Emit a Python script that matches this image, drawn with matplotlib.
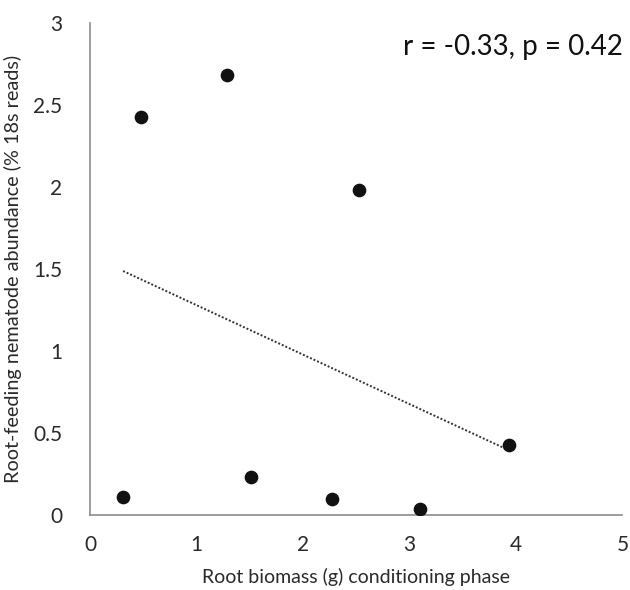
import numpy as np
import matplotlib
matplotlib.use("Agg")
import matplotlib.pyplot as plt

# Root biomass (g) vs root-feeding nematode abundance (% 18s reads)
biomass = [0.31, 0.48, 1.29, 1.51, 2.27, 2.53, 3.10, 3.93]
abundance = [0.11, 2.43, 2.68, 0.23, 0.10, 1.98, 0.04, 0.43]
xticks = [0, 1, 2, 3, 4, 5]
yticks = [0, 0.5, 1, 1.5, 2, 2.5, 3]
ytick_labels = ["0", "0.5", "1", "1.5", "2", "2.5", "3"]

plt.rcParams['font.family'] = ['Lato', 'DejaVu Sans']

fig = plt.figure(figsize=(6.3, 5.9), dpi=100)
ax = fig.add_axes([0.143, 0.127, 0.845, 0.834])

ax.scatter(biomass, abundance, s=78, color='#111111', zorder=3)

# linear trend line over the data range
slope, intercept = np.polyfit(biomass, abundance, 1)
xs = np.array([min(biomass), max(biomass)])
ax.plot(xs, slope * xs + intercept, color='#333333', linewidth=1.4,
        linestyle=(0, (1, 1)), zorder=2)

ax.set_xlim(0, 5)
ax.set_ylim(0, 3)
ax.set_xticks(xticks)
ax.set_yticks(yticks)
ax.set_yticklabels(ytick_labels)
ax.tick_params(length=0, labelsize=15, colors='#2a2a2a')
ax.tick_params(axis='y', pad=20)
ax.tick_params(axis='x', pad=14)

for side in ['top', 'right']:
    ax.spines[side].set_visible(False)
for side in ['left', 'bottom']:
    ax.spines[side].set_color('#8c8c8c')
    ax.spines[side].set_linewidth(1.2)

ax.set_xlabel("Root biomass (g) conditioning phase", fontsize=14, color='#2a2a2a', labelpad=10)
ax.set_ylabel("Root-feeding nematode abundance (% 18s reads)", fontsize=14.3, color='#2a2a2a', labelpad=8)

ax.text(1.0, 0.935, "r = -0.33, p = 0.42", transform=ax.transAxes,
        ha='right', va='baseline', fontsize=20, color='#111111')

fig.savefig("out.png", dpi=100, facecolor='white')
